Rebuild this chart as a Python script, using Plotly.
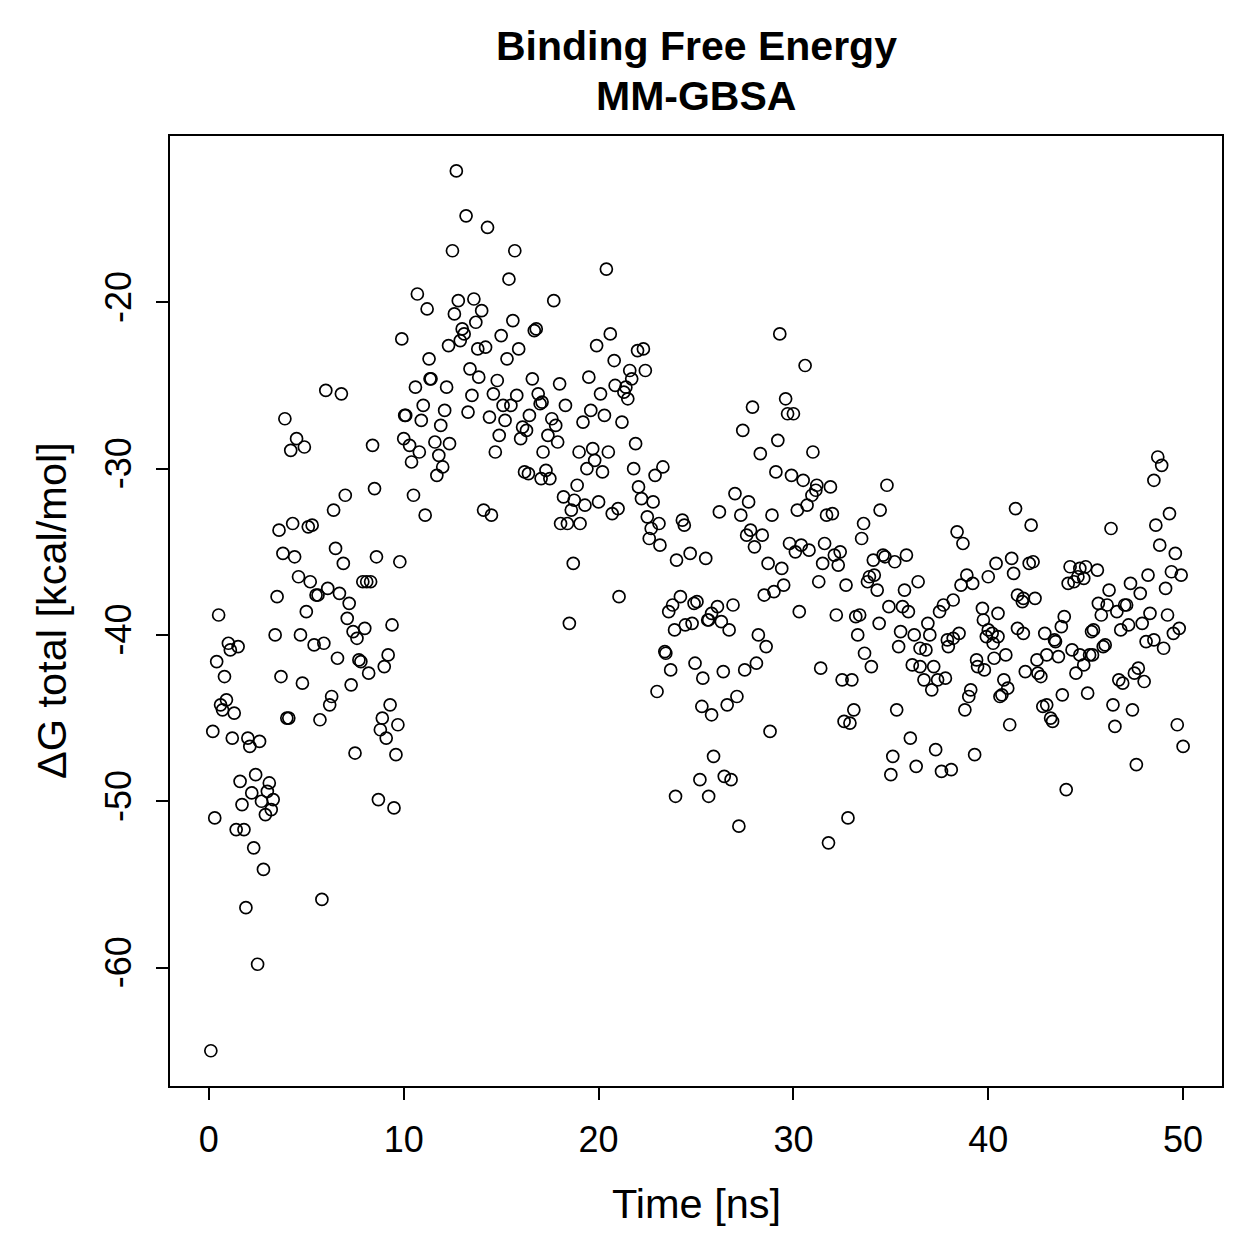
import plotly.graph_objects as go

# Time [ns] and ΔG total [kcal/mol]
time_ns = [
    0.1, 0.2, 0.3, 0.4, 0.5, 0.6, 0.7, 0.8, 0.9, 1.0, 1.1, 1.2, 1.3, 1.4, 1.5, 1.6, 1.7, 1.8, 1.9, 2.0,
    2.1, 2.2, 2.3, 2.4, 2.5, 2.6, 2.7, 2.8, 2.9, 3.0, 3.1, 3.2, 3.3, 3.4, 3.5, 3.6, 3.7, 3.8, 3.9, 4.0,
    4.1, 4.2, 4.3, 4.4, 4.5, 4.6, 4.7, 4.8, 4.9, 5.0, 5.1, 5.2, 5.3, 5.4, 5.5, 5.6, 5.7, 5.8, 5.9, 6.0,
    6.1, 6.2, 6.3, 6.4, 6.5, 6.6, 6.7, 6.8, 6.9, 7.0, 7.1, 7.2, 7.3, 7.4, 7.5, 7.6, 7.7, 7.8, 7.9, 8.0,
    8.1, 8.2, 8.3, 8.4, 8.5, 8.6, 8.7, 8.8, 8.9, 9.0, 9.1, 9.2, 9.3, 9.4, 9.5, 9.6, 9.7, 9.8, 9.9, 10.0,
    10.05, 10.1, 10.3, 10.4, 10.5, 10.6, 10.7, 10.8, 10.9, 11.0, 11.1, 11.2, 11.3, 11.35, 11.4, 11.6, 11.7, 11.8, 11.9, 12.0,
    12.1, 12.2, 12.3, 12.35, 12.5, 12.6, 12.7, 12.8, 12.9, 13.0, 13.1, 13.2, 13.3, 13.4, 13.5, 13.6, 13.7, 13.8, 13.85, 14.0,
    14.1, 14.2, 14.3, 14.4, 14.5, 14.6, 14.7, 14.8, 14.9, 15.0, 15.1, 15.2, 15.3, 15.4, 15.5, 15.6, 15.7, 15.8, 15.9, 16.0,
    16.1, 16.2, 16.3, 16.4, 16.45, 16.6, 16.7, 16.8, 16.9, 17.0, 17.05, 17.1, 17.15,
    20.4, 17.7, 20.6, 19.9, 22.0, 22.3, 20.8, 21.6, 22.4, 21.7, 19.5, 18.0, 20.85, 21.4, 20.1, 21.3, 21.5, 18.3, 19.6, 20.3,
    21.2, 19.2, 17.6, 17.8, 17.4, 17.9, 21.9, 19.0, 19.7, 20.5, 19.8, 19.4, 20.2, 21.8, 17.3, 17.5, 23.3, 22.9, 18.9, 22.05,
    18.2, 18.75, 19.3, 20.0, 22.2, 22.8, 18.6, 21.0, 20.7, 22.5, 18.05, 18.4, 19.05, 23.1, 24.3, 24.4, 22.7, 22.6, 23.15, 24.0,
    24.7, 25.5, 18.7, 21.05, 24.2, 23.8, 23.6, 25.05, 24.9, 18.5, 23.9, 24.45, 24.8, 25.6, 23.4, 23.45, 23.7, 24.95, 25.35, 23.0,
    25.3, 25.9, 25.2, 23.95, 25.65,
    29.3, 30.6, 29.6, 27.9, 29.7, 30.0, 27.4, 29.2, 28.3, 31.0, 29.1, 29.9, 30.5, 31.2, 31.15, 31.9, 30.95, 30.7, 30.2, 27.0,
    27.7, 26.2, 27.3, 28.9, 31.7, 32.0, 33.6, 33.5, 27.8, 27.6, 28.4, 28.0, 29.8, 30.4, 30.1, 30.8, 31.6, 32.4, 32.1, 32.3,
    31.5, 34.1, 28.7, 29.4, 31.3, 32.7, 33.9, 34.15, 33.8, 34.3, 29.5, 29.0, 28.5, 30.3, 26.9, 26.1, 25.8, 26.3, 32.2, 33.4,
    33.2, 25.65, 26.7, 33.3, 34.4, 28.2, 28.6, 33.65, 34.0, 31.4, 32.5, 33.0, 28.1, 27.5, 26.4, 27.1, 26.6, 25.8, 33.1, 32.6,
    32.9, 28.8, 26.45, 26.8, 27.2, 32.8, 31.8,
    34.8, 34.45, 41.4, 42.2, 38.4, 38.7, 35.8, 35.2, 34.6, 34.7, 40.4, 41.2, 41.3, 42.1, 42.3, 36.4, 35.7, 38.9, 38.6, 39.2,
    40.0, 38.2, 37.7, 37.5, 34.9, 35.6, 35.9, 41.5, 41.8, 42.4, 41.75, 39.7, 40.5, 36.9, 35.5, 36.2, 37.0, 35.4, 36.5, 36.8,
    37.9, 38.2, 38.5, 37.95, 39.75, 40.0, 40.2, 40.5, 39.9, 40.25, 41.5, 41.8, 42.9, 40.9, 40.3, 39.4, 39.45, 39.8, 42.5, 41.9,
    42.55, 42.7, 36.1, 36.5, 37.2, 36.7, 37.4, 37.8, 37.1, 39.1, 39.0, 38.8, 40.8, 41.0, 40.7, 40.6, 42.8, 43.0, 43.2, 41.1,
    35.3, 36.0, 37.3, 35.1, 36.3, 35.0, 37.6, 38.1, 39.3,
    48.7, 48.9, 48.5, 46.3, 49.3, 48.6, 48.8, 49.6, 44.2, 44.7, 45.0, 45.6, 44.1, 44.4, 44.9, 44.6, 48.2, 49.4, 49.9, 49.1,
    47.3, 47.8, 46.2, 45.65, 46.1, 47.1, 47.0, 46.6, 48.3, 49.2, 43.9, 45.8, 47.9, 49.8, 49.5, 47.2, 46.8, 43.75, 43.4, 43.45,
    45.4, 45.3, 46.0, 45.9, 48.1, 48.5, 49.0, 44.3, 44.7, 45.2, 45.35, 43.0, 43.6, 44.9, 44.5, 47.7, 47.5, 48.0, 46.7, 46.9,
    43.8, 45.1, 46.4, 47.4, 43.3, 46.5, 49.7, 50.0, 47.6, 44.0,
]

dg_total = [
    -65.0, -45.8, -51.0, -41.6, -38.8, -44.2, -44.5, -42.5, -43.9, -40.5, -40.9, -46.2, -44.7, -51.7, -40.7, -48.8, -50.2, -51.7, -56.4, -46.2,
    -46.7, -49.5, -52.8, -48.4, -59.8, -46.4, -50.0, -54.1, -50.8, -49.4, -48.9, -50.5, -49.9, -40.0, -37.7, -33.7, -42.5, -35.1, -27.0, -45.0,
    -45.0, -28.9, -33.3, -35.3, -28.2, -36.5, -40.0, -42.9, -28.7, -38.6, -33.5, -36.8, -33.4, -40.6, -37.6, -37.6, -45.1, -55.9, -40.5, -25.3,
    -37.2, -44.2, -43.7, -32.5, -34.8, -41.4, -37.5, -25.5, -35.7, -31.6, -39.0, -38.1, -43.0, -39.8, -47.1, -40.2, -41.5, -41.6, -36.8, -39.6,
    -36.8, -42.3, -36.8, -28.6, -31.2, -35.3, -49.9, -45.7, -45.0, -41.9, -46.2, -41.2, -44.2, -39.4, -50.4, -47.2, -45.4, -35.6, -22.2, -28.2,
    -26.8, -26.8, -28.6, -29.6, -31.6, -25.1, -19.5, -29.0, -27.1, -26.2, -32.8, -20.4, -23.4, -24.6, -24.6, -28.4, -30.4, -29.2, -27.4, -29.9,
    -26.5, -25.1, -22.6, -28.5, -16.9, -20.7, -12.1, -19.9, -22.3, -21.6, -21.9, -14.8, -26.6, -24.0, -25.6, -19.8, -21.2, -22.8, -24.5, -20.5,
    -32.5, -22.7, -15.5, -26.9, -32.8, -25.5, -29.0, -24.7, -28.0, -22.0, -26.2, -27.1, -23.4, -18.6, -26.2, -21.1, -16.9, -25.6, -22.8, -28.2,
    -27.5, -30.2, -27.7, -30.3, -26.8, -24.6, -21.7, -21.6, -25.5, -26.1, -30.6, -26.0, -29.0,
    -18.0, -19.9, -21.9, -22.6, -22.9, -22.8, -23.5, -24.1, -24.1, -24.6, -24.5, -24.9, -25.0, -25.1, -25.5, -25.4, -25.8, -26.2, -26.5, -26.8,
    -27.2, -27.2, -27.0, -27.4, -28.0, -28.4, -28.5, -29.0, -28.8, -29.0, -29.5, -30.0, -30.2, -30.0, -30.1, -30.6, -29.9, -30.4, -31.0, -31.1,
    -31.7, -31.9, -32.2, -32.0, -31.8, -32.0, -32.5, -32.4, -32.7, -32.9, -33.3, -33.3, -33.3, -33.3, -33.1, -33.4, -33.6, -34.2, -34.6, -35.5,
    -35.1, -35.4, -35.7, -37.7, -37.7, -38.2, -38.6, -38.0, -38.1, -39.3, -39.7, -39.4, -39.3, -39.1, -41.0, -41.1, -42.1, -41.7, -42.6, -43.4,
    -44.3, -47.3, -48.7, -49.7, -49.7,
    -21.9, -23.8, -25.8, -26.3, -26.7, -26.7, -27.7, -28.3, -29.1, -29.0, -30.2, -30.4, -30.7, -31.0, -31.3, -31.1, -31.6, -32.2, -32.5, -31.5,
    -32.0, -32.6, -32.8, -32.8, -32.8, -32.7, -33.3, -34.2, -33.7, -34.0, -34.0, -34.7, -34.5, -34.6, -35.0, -34.9, -34.5, -35.0, -35.2, -35.8,
    -35.7, -35.5, -35.7, -36.0, -36.8, -37.0, -36.5, -36.4, -36.8, -37.3, -37.0, -37.4, -37.6, -38.6, -38.2, -38.3, -38.7, -39.2, -38.8, -38.8,
    -38.9, -39.1, -39.7, -40.0, -39.3, -40.0, -40.7, -41.1, -41.9, -42.0, -42.7, -42.7, -41.7, -42.1, -42.2, -43.7, -44.2, -44.8, -44.5, -45.2,
    -45.3, -45.8, -48.5, -48.7, -51.5, -51.0, -52.5,
    -31.0, -32.5, -32.4, -33.4, -33.8, -34.5, -35.2, -35.6, -35.2, -35.3, -35.7, -35.4, -36.3, -35.7, -35.6, -36.8, -37.3, -36.4, -37.0, -36.9,
    -36.5, -37.9, -38.2, -38.6, -38.3, -38.3, -38.6, -37.6, -37.8, -37.8, -38.0, -38.4, -38.7, -39.3, -39.8, -40.0, -40.0, -40.7, -40.8, -40.9,
    -40.3, -40.2, -39.9, -40.7, -39.1, -39.7, -39.9, -40.1, -40.1, -40.5, -39.6, -39.9, -39.9, -41.2, -41.4, -41.5, -41.9, -42.1, -41.5, -42.2,
    -42.3, -42.5, -41.8, -41.9, -41.9, -42.7, -42.7, -42.6, -43.3, -43.3, -43.7, -44.5, -42.7, -43.2, -43.6, -43.7, -44.3, -44.2, -45.0, -45.4,
    -44.5, -46.2, -46.9, -47.3, -47.9, -48.4, -48.2, -48.1, -47.2,
    -29.3, -29.8, -30.7, -33.6, -32.7, -33.4, -34.6, -35.1, -35.9, -36.0, -35.9, -36.1, -36.9, -36.8, -36.6, -36.5, -36.4, -36.2, -36.4, -37.2,
    -36.9, -37.5, -37.3, -38.1, -38.2, -38.2, -38.2, -38.6, -38.7, -38.8, -38.9, -38.8, -39.3, -39.6, -39.9, -39.4, -39.7, -39.5, -40.3, -40.4,
    -39.7, -39.8, -40.6, -40.7, -40.4, -40.3, -40.8, -40.9, -41.2, -41.2, -41.2, -41.2, -41.3, -41.8, -42.3, -42.0, -42.3, -42.8, -42.7, -42.9,
    -43.6, -43.5, -44.2, -44.5, -45.2, -45.5, -45.4, -46.7, -47.8, -49.3,
]

x_ticks = [0, 10, 20, 30, 40, 50]
y_ticks = [-60, -50, -40, -30, -20]
title_lines = ["Binding Free Energy", "MM-GBSA"]
x_label = "Time [ns]"
y_label = "ΔG total [kcal/mol]"

FONT = "Liberation Sans, Arial, Helvetica, sans-serif"
TICK_SIZE = 36
LABEL_SIZE = 41.5
TITLE_SIZE = 41

fig = go.Figure(
    go.Scatter(
        x=time_ns,
        y=dg_total,
        mode="markers",
        marker=dict(symbol="circle-open", size=12, color="black",
                    line=dict(width=1.7, color="black")),
        showlegend=False,
    )
)

# plot area in pixels: left 170, right 1222, top 136, bottom 1086
PL, PR, PT, PB = 170, 1222, 136, 1086
PW, PH = PR - PL, PB - PT


def px_x(px):
    return (px - PL) / PW


def px_y(py):
    return (PB - py) / PH


annotations = [
    dict(text=f"<b>{title_lines[0]}</b>", x=0.5, y=px_y(46), xref="paper", yref="paper",
         xanchor="center", yanchor="middle", showarrow=False,
         font=dict(family=FONT, size=TITLE_SIZE, color="black")),
    dict(text=f"<b>{title_lines[1]}</b>", x=0.5, y=px_y(96), xref="paper", yref="paper",
         xanchor="center", yanchor="middle", showarrow=False,
         font=dict(family=FONT, size=TITLE_SIZE, color="black")),
    dict(text=x_label, x=0.5, y=px_y(1203), xref="paper", yref="paper",
         xanchor="center", yanchor="middle", showarrow=False,
         font=dict(family=FONT, size=LABEL_SIZE, color="black")),
    dict(text=y_label, x=px_x(51), y=0.5, xref="paper", yref="paper",
         xanchor="center", yanchor="middle", showarrow=False, textangle=-90,
         font=dict(family=FONT, size=LABEL_SIZE, color="black")),
]

fig.update_layout(
    width=1259,
    height=1259,
    autosize=False,
    margin=dict(l=PL, r=1259 - PR, t=PT, b=1259 - PB, pad=0),
    paper_bgcolor="white",
    plot_bgcolor="white",
    font=dict(family=FONT, color="black", size=TICK_SIZE),
    annotations=annotations,
)

fig.update_xaxes(
    range=[-1.996, 51.996],
    tickvals=x_ticks,
    ticktext=[str(v) for v in x_ticks],
    ticks="outside", ticklen=12, tickwidth=2, tickcolor="black",
    showline=True, linecolor="black", linewidth=2, mirror=True,
    showgrid=False, zeroline=False,
    tickfont=dict(family=FONT, size=TICK_SIZE, color="black"),
    ticklabelstandoff=9,
)

fig.update_yaxes(
    range=[-67.12, -10.0],
    tickvals=y_ticks,
    ticktext=[str(v) for v in y_ticks],
    tickangle=-90,
    ticks="outside", ticklen=12, tickwidth=2, tickcolor="black",
    showline=True, linecolor="black", linewidth=2, mirror=True,
    showgrid=False, zeroline=False,
    tickfont=dict(family=FONT, size=TICK_SIZE, color="black"),
    ticklabelstandoff=11,
)

fig.write_html("out.html")
